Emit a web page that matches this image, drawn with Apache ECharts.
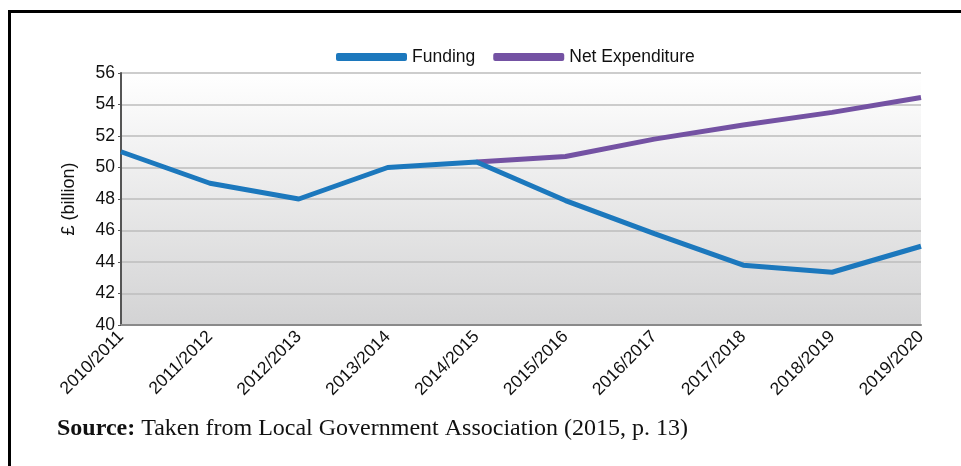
<!DOCTYPE html>
<html><head><meta charset="utf-8">
<script src="https://cdn.jsdelivr.net/npm/echarts@6/dist/echarts.min.js"></script>
<style>html,body{margin:0;padding:0;background:#fff;}#c{width:961px;height:466px;}</style>
</head><body><div id="c"></div>
<script>
const categories = ['2010/2011','2011/2012','2012/2013','2013/2014','2014/2015','2015/2016','2016/2017','2017/2018','2018/2019','2019/2020'];
const funding = [51.0, 49.0, 48.0, 50.0, 50.35, 47.9, 45.8, 43.8, 43.35, 45.0];
const netExpenditure = [null, null, null, null, 50.35, 50.7, 51.8, 52.7, 53.5, 54.45];
const yTicks = {min: 40, max: 56, interval: 2};

const chart = echarts.init(document.getElementById('c'), null, {renderer: 'canvas'});
chart.setOption({
  animation: false,
  backgroundColor: '#fff',
  legend: {
    top: 43, left: 331,
    itemWidth: 71, itemHeight: 8, itemGap: 18,
    textStyle: {fontFamily: 'Liberation Sans', fontSize: 17.5, color: '#111'},
    data: [
      {name: 'Funding', icon: 'roundRect'},
      {name: 'Net Expenditure', icon: 'roundRect'}
    ]
  },
  grid: {
    left: 121, right: 40, top: 73, bottom: 141,
    show: true, borderWidth: 0,
    backgroundColor: {type: 'linear', x: 0, y: 0, x2: 0, y2: 1,
      colorStops: [{offset: 0, color: '#ffffff'}, {offset: 1, color: '#d3d3d4'}]}
  },
  xAxis: {
    type: 'category', data: categories, boundaryGap: false,
    axisLine: {lineStyle: {color: '#8a8a8a', width: 2}},
    axisTick: {show: false},
    axisLabel: {rotate: 45, margin: 9, fontFamily: 'Liberation Sans', fontSize: 17.5, color: '#111'}
  },
  yAxis: {
    type: 'value', min: yTicks.min, max: yTicks.max, interval: yTicks.interval,
    name: '£ (billion)', nameLocation: 'middle', nameGap: 43,
    nameTextStyle: {fontFamily: 'Liberation Sans', fontSize: 18, color: '#111'},
    axisLine: {show: true, lineStyle: {color: '#555', width: 2}},
    axisTick: {show: true, length: 3, lineStyle: {color: '#555'}},
    axisLabel: {fontFamily: 'Liberation Sans', fontSize: 17.5, color: '#111', margin: 6},
    splitLine: {show: true, lineStyle: {color: '#bdbdbd', width: 1.5}}
  },
  series: [
    {name: 'Net Expenditure', type: 'line', data: netExpenditure, symbol: 'none', z: 2,
     lineStyle: {color: '#7452a3', width: 5}, itemStyle: {color: '#7452a3'}},
    {name: 'Funding', type: 'line', data: funding, symbol: 'none', z: 3,
     lineStyle: {color: '#1c78bd', width: 5}, itemStyle: {color: '#1c78bd'}}
  ],
  graphic: [
    {type: 'rect', shape: {x: 8, y: 10, width: 960, height: 3}, style: {fill: '#000'}},
    {type: 'rect', shape: {x: 8, y: 10, width: 3, height: 460}, style: {fill: '#000'}},
    {type: 'text', left: 57, top: 417, style: {
      text: '{b|Source:} Taken from Local Government Association (2015, p. 13)',
      rich: {b: {fontFamily: 'Liberation Serif', fontSize: 24, fontWeight: 'bold', fill: '#111'}},
      fontFamily: 'Liberation Serif', fontSize: 24, fill: '#111'}}
  ]
});
</script></body></html>
